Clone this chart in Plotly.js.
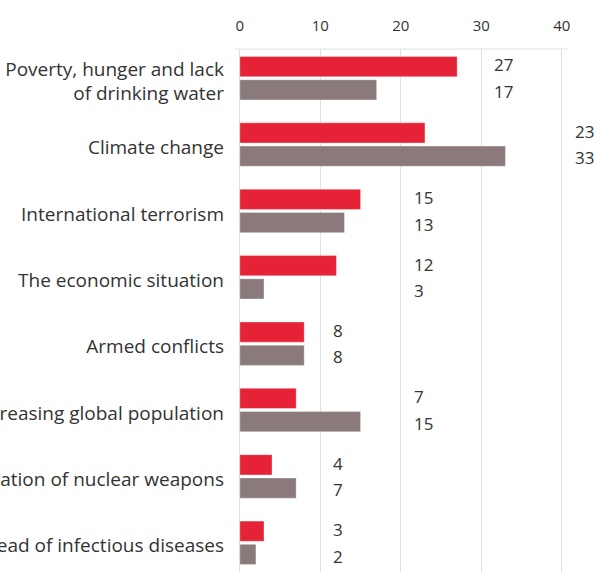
<!DOCTYPE html>
<html>
<head>
<meta charset="utf-8">
<script src="https://cdn.plot.ly/plotly-3.0.1.min.js"></script>
<style>html,body{margin:0;padding:0;background:#fff;}#chart{width:595px;height:572px;}</style>
</head>
<body>
<div id="chart"></div>
<script>
const categories = [
  "Poverty, hunger and lack<br>of drinking water",
  "Climate change",
  "International terrorism",
  "The economic situation",
  "Armed conflicts",
  "Increasing global population",
  "Proliferation of nuclear weapons",
  "Spread of infectious diseases"
];
const seriesRed = [27, 23, 15, 12, 8, 7, 4, 3];
const seriesGrey = [17, 33, 13, 3, 8, 15, 7, 2];
const xTicks = [0, 10, 20, 30, 40];

const red = '#e52236';
const grey = '#8a7a7c';
const idx = categories.map((c, i) => i);

const traces = [
  {type: 'bar', orientation: 'h', x: seriesRed, y: idx, name: 'red',
   marker: {color: red, line: {color: 'rgba(255,255,255,0.35)', width: 1}}, hoverinfo: 'none'},
  {type: 'bar', orientation: 'h', x: seriesGrey, y: idx, name: 'grey',
   marker: {color: grey, line: {color: 'rgba(255,255,255,0.35)', width: 1}}, hoverinfo: 'none'}
];

const valFont = {family: 'Open Sans', size: 17, color: '#333'};
const annotations = [];
categories.forEach((c, i) => {
  const m = Math.max(seriesRed[i], seriesGrey[i]);
  const xPos = Math.ceil(m / 10) * 10 + 1.35;
  annotations.push({x: xPos, y: i - 0.2, xref: 'x', yref: 'y', text: String(seriesRed[i]),
    showarrow: false, xanchor: 'left', yanchor: 'middle', font: valFont});
  annotations.push({x: xPos, y: i + 0.2, xref: 'x', yref: 'y', text: String(seriesGrey[i]),
    showarrow: false, xanchor: 'left', yanchor: 'middle', font: valFont});
});

const layout = {
  width: 595, height: 572,
  margin: {l: 235, r: 1, t: 49, b: 0, pad: 0},
  paper_bgcolor: '#fff', plot_bgcolor: '#fff',
  showlegend: false,
  barmode: 'group', bargap: 0.30, bargroupgap: 0.13,
  font: {family: 'Open Sans', color: '#333'},
  xaxis: {side: 'top', range: [-0.6, 44], tickvals: xTicks, ticktext: xTicks.map(String),
    showgrid: true, gridcolor: '#e0e0e0', gridwidth: 1, zeroline: false,
    showline: false, ticks: '', ticklabelstandoff: 14,
    tickfont: {family: 'Open Sans', size: 15, color: '#333'}, fixedrange: true},
  yaxis: {range: [7.44, -0.44], tickvals: idx, ticktext: categories, showgrid: false, zeroline: false,
    showline: false, ticks: '', ticklabelstandoff: 10, ticklabelshift: -3,
    tickfont: {family: 'Open Sans', size: 19, color: '#333'}, fixedrange: true},
  shapes: [{type: 'line', xref: 'x', yref: 'paper', x0: -0.6, x1: 40.75, y0: 1, y1: 1,
    line: {color: '#e0e0e0', width: 1}}],
  annotations: annotations
};

Plotly.newPlot('chart', traces, layout, {displayModeBar: false, staticPlot: true});
</script>
</body>
</html>
